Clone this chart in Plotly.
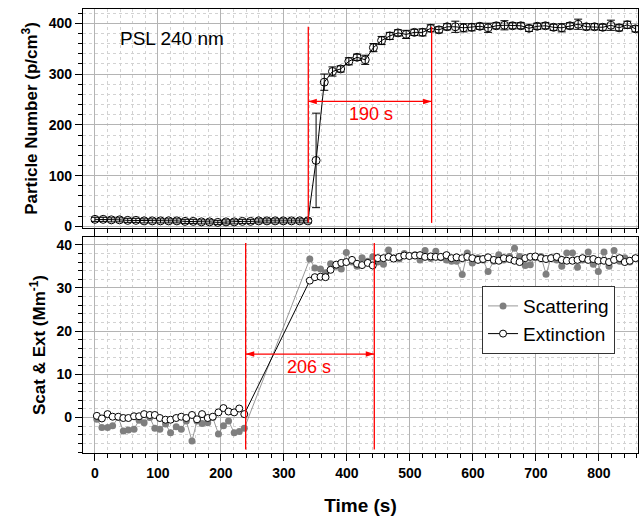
import plotly.graph_objects as go

# ---------------- data ----------------
# Top panel: particle number (p/cm^3)
t_top = [0, 13, 26, 39, 52, 65, 78, 91, 104, 117, 130, 143, 156, 169, 182, 195, 208, 221, 234, 247,
         260, 273, 286, 299, 312, 325, 338, 351, 364, 377, 390, 403, 416, 429, 442, 455, 468, 481,
         494, 507, 520, 533, 546, 559, 572, 585, 598, 611, 624, 637, 650, 663, 676, 689, 702, 715,
         728, 741, 754, 767, 780, 793, 806, 819, 832, 845, 858]
pn = [14, 14, 13, 13, 12, 12, 11, 11, 11, 11, 11, 10, 10, 9, 9, 8, 9, 9, 10, 10,
      11, 11, 11, 11, 11, 11, 11, 130, 284, 305, 310, 325, 333, 328, 352, 366, 375, 381,
      378, 382, 382, 390, 387, 393, 393, 391, 392, 394, 391, 395, 396, 395, 395, 390, 394, 395,
      392, 391, 395, 398, 393, 393, 392, 396, 391, 397, 389]
pn_err = [4, 4, 4, 4, 4, 4, 4, 4, 4, 4, 4, 4, 4, 4, 4, 4, 4, 4, 4, 4,
          4, 4, 4, 4, 4, 4, 4, 93, 16, 9, 6, 7, 6, 9, 8, 8, 7, 6,
          8, 6, 7, 7, 6, 6, 11, 8, 7, 6, 9, 6, 9, 6, 6, 6, 6, 6,
          6, 8, 6, 10, 6, 6, 6, 10, 6, 7, 6]

# Bottom panel: scattering & extinction (Mm^-1)
t_bot = [3, 11, 20, 28, 37, 45, 53, 62, 70, 78, 87, 95, 103, 112, 120, 129, 137, 145, 154, 162,
         170, 179, 187, 196, 204, 212, 221, 229, 237,
         341, 349, 358, 366, 374, 383, 391, 399, 408, 416, 424, 433, 441, 449, 458, 466, 474, 483,
         491, 499, 508, 516, 524, 533, 541, 549, 558, 566, 574, 583, 591, 599, 608, 616, 624, 633,
         641, 649, 658, 666, 674, 683, 691, 699, 708, 716, 724, 733, 741, 749, 758, 766, 774, 783,
         791, 799, 808, 816, 824, 833, 841, 849, 858]
ext = [0.4, -0.2, 0.8, 0.2, 0.2, -0.1, -0.1, 0.3, 0.3, 0.8, 0.6, 0.6, -0.1, -0.5, -0.5, -0.1, 0.2,
       -0.1, 0.6, -0.4, 0.8, -0.1, 0.2, 1.2, 2.2, 1.4, 1.2, 2.1, 0.8,
       31.7, 32.5, 32.6, 32.5, 34.2, 35.4, 35.8, 36.0, 36.5, 35.6, 35.3, 35.8, 35.2, 36.9, 36.9,
       37.2, 36.8, 37.2, 37.5, 37.4, 37.5, 37.6, 37.2, 37.3, 37.2, 37.2, 37.6, 36.9, 37.1, 36.9,
       37.2, 36.9, 36.5, 36.7, 37.1, 36.5, 36.3, 36.9, 36.7, 36.3, 36.0, 36.9, 37.2, 37.3, 36.9,
       36.7, 36.9, 37.2, 36.5, 36.3, 36.3, 36.5, 36.9, 36.5, 36.7, 36.3, 36.3, 36.0, 36.5, 36.9,
       36.0, 36.3, 36.9]
scat = [-0.4, -2.3, -2.3, -1.9, 0.0, -3.1, -2.9, -2.7, -0.6, -1.2, 0.0, -2.5, -2.7, -1.5, -3.5,
        -2.1, -2.7, -0.8, -5.4, -0.8, -1.4, -1.2, 0.0, -3.8, -1.9, -0.8, -3.5, -3.2, -2.5,
        36.7, 34.6, 34.4, 33.5, 35.6, 35.0, 34.4, 38.2, 36.0, 35.0, 37.0, 36.2, 37.2, 36.0, 35.5,
        38.8, 37.0, 36.7, 38.0, 37.5, 37.7, 36.5, 38.7, 36.8, 38.5, 37.0, 36.5, 36.2, 36.2, 33.1,
        38.1, 35.8, 37.0, 36.5, 33.8, 36.2, 37.7, 36.5, 37.3, 39.2, 37.3, 35.2, 35.4, 37.0, 37.3,
        33.2, 37.0, 36.5, 35.0, 38.1, 38.1, 34.8, 36.5, 38.3, 35.5, 33.8, 38.3, 35.0, 38.7, 36.2,
        37.0, 36.0, 36.8]

# annotation positions (data units)
top_marks = [338.6, 534.4]
bot_marks = [239.2, 443.4]
top_arrow_y = 246
bot_arrow_y = 14.7

FONT = "Liberation Sans, Arial, sans-serif"
RED = "#ff0000"

fig = go.Figure()

fig.add_trace(go.Scatter(
    x=t_top, y=pn, mode="lines+markers", showlegend=False,
    line=dict(color="black", width=1),
    marker=dict(symbol="circle-open", size=8, color="black", line=dict(width=1)),
    error_y=dict(type="data", array=pn_err, color="black", thickness=1, width=4),
    xaxis="x", yaxis="y"))

fig.add_trace(go.Scatter(
    x=t_bot, y=scat, mode="lines+markers", name="Scattering",
    line=dict(color="#7f7f7f", width=0.8),
    marker=dict(symbol="circle", size=7, color="#7f7f7f", line=dict(width=0)),
    xaxis="x2", yaxis="y2"))

fig.add_trace(go.Scatter(
    x=t_bot, y=ext, mode="lines+markers", name="Extinction",
    line=dict(color="black", width=1),
    marker=dict(symbol="circle", size=7, color="white", line=dict(color="black", width=1)),
    xaxis="x2", yaxis="y2"))

# red double arrows (line with arrow-shaped end markers)
fig.add_trace(go.Scatter(
    x=top_marks, y=[top_arrow_y, top_arrow_y], mode="lines+markers", showlegend=False,
    hoverinfo="skip", line=dict(color=RED, width=1.3),
    marker=dict(symbol="arrow", size=9, angle=[-90, 90], color=RED, line=dict(width=0)),
    xaxis="x", yaxis="y"))
fig.add_trace(go.Scatter(
    x=bot_marks, y=[bot_arrow_y, bot_arrow_y], mode="lines+markers", showlegend=False,
    hoverinfo="skip", line=dict(color=RED, width=1.3),
    marker=dict(symbol="arrow", size=9, angle=[-90, 90], color=RED, line=dict(width=0)),
    xaxis="x2", yaxis="y2"))

grid_common = dict(
    showline=True, linecolor="black", linewidth=1.3, mirror=True,
    showgrid=True, gridcolor="#b4b4b4", gridwidth=1,
    ticks="outside", ticklen=7, tickwidth=1.3, tickcolor="black",
    zeroline=False,
    tickfont=dict(family=FONT, size=14, color="black", weight="bold"),
)
minor_common = dict(ticks="outside", ticklen=4, tickwidth=1, tickcolor="black",
                    showgrid=True, gridcolor="#d2d2d2", griddash="dot", gridwidth=1)

fig.update_layout(
    width=639, height=518,
    margin=dict(l=83, r=1, t=9, b=65),
    paper_bgcolor="white", plot_bgcolor="white",
    font=dict(family=FONT, color="black"),
    xaxis=dict(domain=[0, 1], anchor="y", range=[-19, 862], dtick=100, tick0=0,
               showticklabels=False, minor=dict(dtick=20, **minor_common), **grid_common),
    yaxis=dict(domain=[0.5068, 1], anchor="x", range=[-3, 428], dtick=100, tick0=0,
               minor=dict(dtick=20, **minor_common),
               title=dict(text="<b>Particle Number (p/cm<sup>3</sup>)</b>",
                          font=dict(family=FONT, size=17, color="black"), standoff=6),
               **grid_common),
    xaxis2=dict(domain=[0, 1], anchor="y2", range=[-19, 862], dtick=100, tick0=0, matches="x",
                minor=dict(dtick=20, **minor_common),
                title=dict(text="<b>Time (s)</b>", font=dict(family=FONT, size=19, color="black"),
                           standoff=18),
                **grid_common),
    yaxis2=dict(domain=[0, 0.4865], anchor="x2", range=[-8.2, 41.8], dtick=10, tick0=0,
                minor=dict(dtick=2, **minor_common),
                title=dict(text="<b>Scat & Ext (Mm<sup>-1</sup>)</b>",
                           font=dict(family=FONT, size=17, color="black"), standoff=6),
                **grid_common),
    legend=dict(x=0.719, y=0.376, xanchor="left", yanchor="top",
                bgcolor="white", bordercolor="#333333", borderwidth=1,
                font=dict(family=FONT, size=19, color="black"),
                tracegroupgap=0),
)

# red vertical lines
shapes = []
for xv, (y0, y1) in zip(top_marks, [(8, 393), (7, 393)]):
    shapes.append(dict(type="line", xref="x", yref="y", x0=xv, x1=xv, y0=y0, y1=y1,
                       line=dict(color=RED, width=1.3)))
for xv in bot_marks:
    shapes.append(dict(type="line", xref="x2", yref="y2", x0=xv, x1=xv, y0=-7.4, y1=40.4,
                       line=dict(color=RED, width=1.3)))
fig.update_layout(shapes=shapes)

fig.add_annotation(xref="x", yref="y", x=437.8, y=221.6, text="190 s", showarrow=False,
                   font=dict(family=FONT, size=18, color=RED))
fig.add_annotation(xref="x2", yref="y2", x=339.7, y=11.6, text="206 s", showarrow=False,
                   font=dict(family=FONT, size=18, color=RED))
fig.add_annotation(xref="x", yref="y", x=121.7, y=369.7, text="PSL 240 nm", showarrow=False,
                   font=dict(family=FONT, size=19, color="black"))

fig.write_html("out.html")
